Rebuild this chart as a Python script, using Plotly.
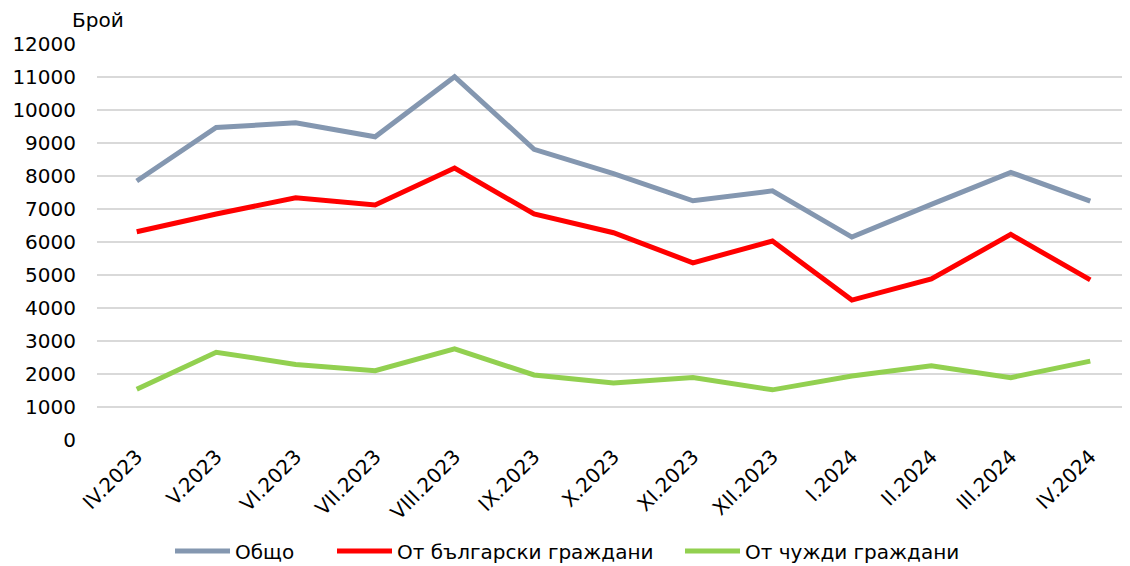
import plotly.graph_objects as go

categories = ["IV.2023", "V.2023", "VI.2023", "VII.2023", "VIII.2023", "IX.2023", "X.2023",
              "XI.2023", "XII.2023", "I.2024", "II.2024", "III.2024", "IV.2024"]
total = [7850, 9470, 9610, 9190, 11010, 8810, 8070, 7250, 7550, 6150, 7140, 8110, 7240]
bulgarian = [6310, 6850, 7340, 7120, 8240, 6850, 6280, 5370, 6030, 4240, 4880, 6230, 4850]
foreign = [1540, 2660, 2290, 2100, 2760, 1970, 1730, 1890, 1520, 1940, 2250, 1890, 2390]
y_ticks = [0, 1000, 2000, 3000, 4000, 5000, 6000, 7000, 8000, 9000, 10000, 11000, 12000]

series = [
    ("Общо", total, "#8497B0", "legend"),
    ("От български граждани", bulgarian, "#FF0000", "legend2"),
    ("От чужди граждани", foreign, "#92D050", "legend3"),
]

fig = go.Figure()
for name, vals, color, lg in series:
    fig.add_trace(go.Scatter(x=categories, y=vals, name=name, mode="lines",
                             line=dict(color=color, width=5), legend=lg))

FF = "DejaVu Sans"
fnt = dict(family=FF, size=20, color="black")
W, H = 1122, 558


def lg(xpix):
    return dict(orientation="h", xanchor="left", x=xpix / W, xref="container",
                yref="container", y=15 / H, yanchor="middle", font=fnt,
                itemwidth=55, bgcolor="rgba(0,0,0,0)")


# page body has an 8px margin; figure is sized so the plot lands where the reference has it
fig.update_layout(
    width=W, height=H,
    margin=dict(l=89, r=0, t=36, b=126, autoexpand=False),
    plot_bgcolor="white", paper_bgcolor="white",
    font=fnt,
    showlegend=True,
    legend=lg(162), legend2=lg(324), legend3=lg(672),
    xaxis=dict(type="category", range=[-0.5, 12.5], tickangle=-45, automargin=False,
               showgrid=False, showline=False, ticks="", tickfont=fnt),
    yaxis=dict(range=[0, 12000], tickvals=y_ticks, ticktext=[str(v) for v in y_ticks],
               automargin=False,
               showgrid=True, gridcolor="#D9D9D9", gridwidth=2, zeroline=False,
               showline=False, ticks="", ticklabelstandoff=20, tickfont=fnt),
)
fig.add_annotation(text="Брой", xref="paper", yref="paper", x=0, y=1, xanchor="left",
                   yanchor="bottom", xshift=-27, yshift=10, showarrow=False,
                   font=fnt)

fig.write_html("out.html")
